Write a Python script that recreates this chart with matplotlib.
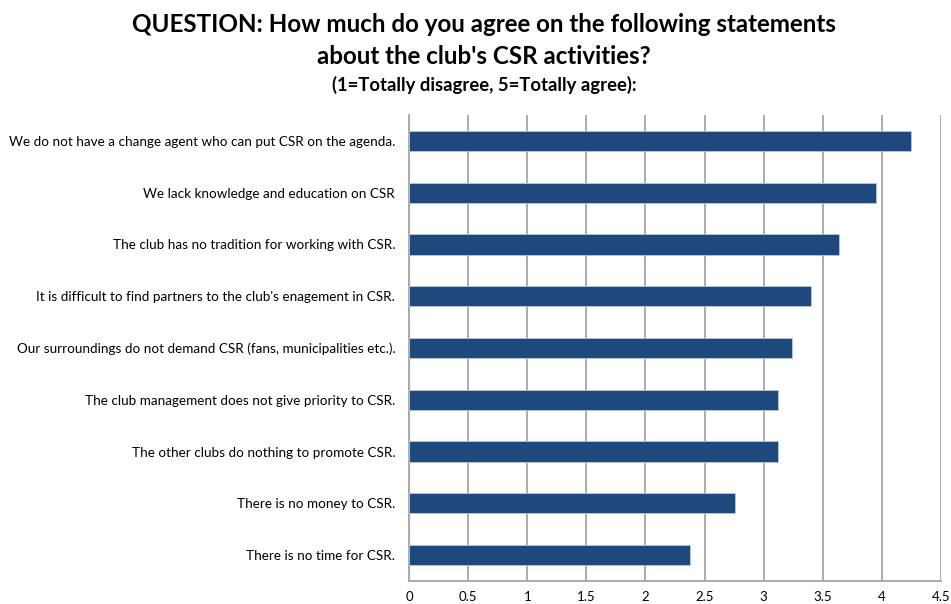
import matplotlib.pyplot as plt

plt.rcParams['font.family'] = ['Lato', 'DejaVu Sans']

# Statements (top to bottom) and mean agreement scores
statements = [
    "We do not have a change agent who can put CSR on the agenda.",
    "We lack knowledge and education on CSR",
    "The club has no tradition for working with CSR.",
    "It is difficult to find partners to the club's enagement in CSR.",
    "Our surroundings do not demand CSR (fans, municipalities etc.).",
    "The club management does not give priority to CSR.",
    "The other clubs do nothing to promote CSR.",
    "There is no money to CSR.",
    "There is no time for CSR.",
]
scores = [4.25, 3.95, 3.64, 3.40, 3.24, 3.12, 3.12, 2.76, 2.38]
xticks = [0, 0.5, 1, 1.5, 2, 2.5, 3, 3.5, 4, 4.5]
xtick_labels = ['0', '0.5', '1', '1.5', '2', '2.5', '3', '3.5', '4', '4.5']

fig = plt.figure(figsize=(9.51, 6.04), dpi=100)
ax = fig.add_axes([0.4301, 0.0381, 0.5594, 0.7715])

pos = list(range(len(statements)))[::-1]
ax.barh(pos, scores, height=0.39, color='#1F497D', edgecolor='#B8C8DC', linewidth=0.6, zorder=3)

ax.set_xlim(0, 4.5)
ax.set_ylim(-0.5, len(statements) - 0.5)
ax.set_xticks(xticks)
ax.set_xticklabels(xtick_labels)
ax.set_yticks(pos)
ax.set_yticklabels(statements)

ax.grid(axis='x', color='#A6A6A6', linewidth=1.3, zorder=0)
for s in ['top', 'right']:
    ax.spines[s].set_visible(False)
for s in ['left', 'bottom']:
    ax.spines[s].set_color('#A6A6A6')
    ax.spines[s].set_linewidth(1.3)

ax.tick_params(axis='x', length=0, pad=7, labelsize=9.5, colors='black')
ax.tick_params(axis='y', length=0, pad=10, labelsize=9.7, colors='black')

fig.text(0.509, 1 - 25 / 604, "QUESTION: How much do you agree on the following statements",
         ha='center', va='center', fontsize=17.4, fontweight='bold')
fig.text(0.509, 1 - 57 / 604, "about the club's CSR activities?",
         ha='center', va='center', fontsize=17.4, fontweight='bold')
fig.text(0.509, 1 - 85 / 604, "(1=Totally disagree, 5=Totally agree):",
         ha='center', va='center', fontsize=13.3, fontweight='bold')

fig.savefig('out.png', dpi=100)
